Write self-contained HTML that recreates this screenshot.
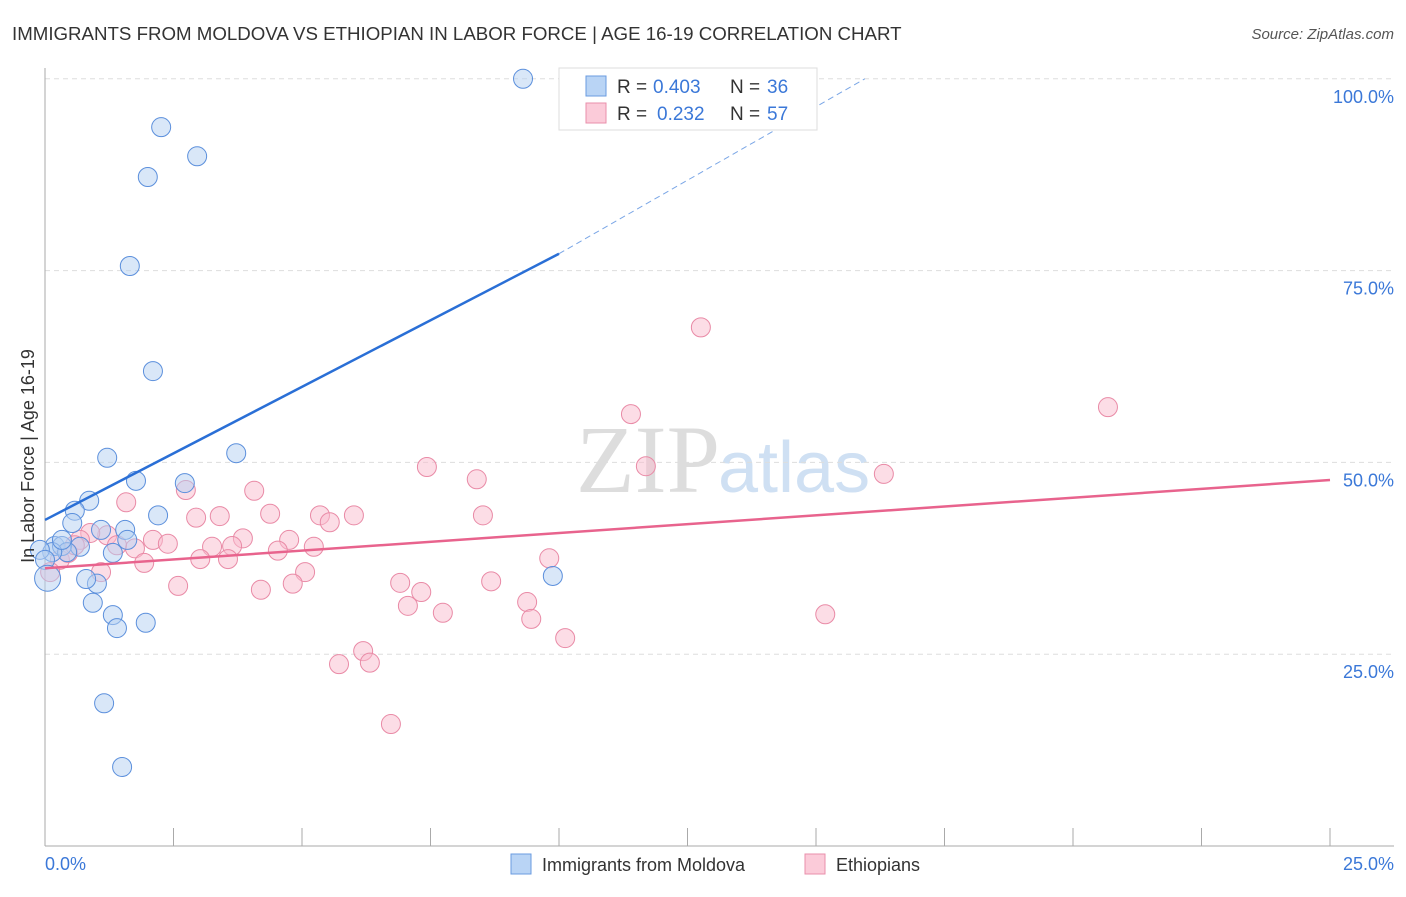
<!DOCTYPE html>
<html><head><meta charset="utf-8"><style>
body{margin:0;background:#fff;font-family:"Liberation Sans",sans-serif;}
</style></head><body>
<svg width="1406" height="892" xmlns="http://www.w3.org/2000/svg">
<text x="12" y="40" font-size="18.7" fill="#333">IMMIGRANTS FROM MOLDOVA VS ETHIOPIAN IN LABOR FORCE | AGE 16-19 CORRELATION CHART</text>
<text x="1394" y="39" font-size="15" fill="#555" font-style="italic" text-anchor="end">Source: ZipAtlas.com</text>
<text x="720" y="492" font-size="96" fill="#ddd" text-anchor="end" font-family="Liberation Serif,serif">ZIP</text>
<text x="718" y="492" font-size="72" fill="#cfe0f3">atlas</text>
<g id="grid"></g><g id="axes"></g><g id="pts"></g><g id="lines"></g>
<text transform="translate(34,456) rotate(-90)" font-size="18" fill="#333" text-anchor="middle">In Labor Force | Age 16-19</text>
<text x="45" y="870" font-size="18" fill="#3b78d8">0.0%</text>
<text x="1394" y="870" font-size="18" fill="#3b78d8" text-anchor="end">25.0%</text>
<g>
<rect x="559" y="68" width="258" height="62" fill="#fff" stroke="#ddd"/>
<rect x="586" y="76" width="20" height="20" fill="#b9d4f5" stroke="#6a9be0"/>
<rect x="586" y="103" width="20" height="20" fill="#fbcbd9" stroke="#ea8fab"/>
<text x="617" y="93" font-size="19" fill="#333">R =</text><text x="653" y="93" font-size="19" fill="#3b78d8">0.403</text>
<text x="730" y="93" font-size="19" fill="#333">N =</text><text x="767" y="93" font-size="19" fill="#3b78d8">36</text>
<text x="617" y="120" font-size="19" fill="#333">R =</text><text x="657" y="120" font-size="19" fill="#3b78d8">0.232</text>
<text x="730" y="120" font-size="19" fill="#333">N =</text><text x="767" y="120" font-size="19" fill="#3b78d8">57</text>
</g>
<g>
<rect x="511" y="854" width="20" height="20" fill="#b9d4f5" stroke="#6a9be0"/>
<text x="542" y="871" font-size="18" fill="#333">Immigrants from Moldova</text>
<rect x="805" y="854" width="20" height="20" fill="#fbcbd9" stroke="#ea8fab"/>
<text x="836" y="871" font-size="18" fill="#333">Ethiopians</text>
</g>
</svg>
<script>
const yTicks=[25,50,75,100];
const xTicks=[0,2.5,5,7.5,10,12.5,15,17.5,20,22.5,25];
const bluePx=[[523,79],[161,127],[197,156],[148,177],[130,266],[153,371],[236,453],[107,458],[136,481],[185,483],[89,501],[158,515],[75,511],[72,523],[101,530],[125,530],[127,540],[80,547],[55,546],[62,546],[67,552],[52,552],[113,553],[97,584],[86,579],[93,603],[113,615],[117,628],[146,623],[104,703],[122,767],[553,576],[40,550],[62,540],[45,560]];
const pinkPx=[[701,327],[631,414],[1108,407],[646,466],[884,474],[427,467],[477,479],[254,491],[186,490],[126,502],[270,514],[220,516],[196,518],[320,515],[354,515],[330,522],[483,515],[243,538],[153,540],[168,544],[289,540],[107,535],[90,533],[212,547],[314,547],[232,546],[135,548],[278,551],[200,559],[228,559],[144,563],[549,558],[305,572],[101,572],[178,586],[261,590],[293,584],[400,583],[421,592],[491,581],[408,606],[443,613],[527,602],[531,619],[825,614],[565,638],[363,651],[339,664],[370,663],[391,724],[60,560],[68,553],[50,572],[80,540],[117,545],[75,545]];
const blueX=bluePx.map(p=>+((p[0]-45)/51.4).toFixed(2)), blueY=bluePx.map(p=>+((846-p[1])/7.672).toFixed(1));
const pinkX=pinkPx.map(p=>+((p[0]-45)/51.4).toFixed(2)), pinkY=pinkPx.map(p=>+((846-p[1])/7.672).toFixed(1));
const blueTrend=[42.5,3.47], pinkTrend=[36.2,0.46];
const blueDashEnd=[15.95,100];
const X=v=>45+v*51.4, Y=v=>846-v*7.672;
const NS="http://www.w3.org/2000/svg";
function mk(t,a,parent){const e=document.createElementNS(NS,t);for(const k in a)e.setAttribute(k,a[k]);document.getElementById(parent).appendChild(e);return e;}
yTicks.forEach(t=>{
 const l=mk('line',{x1:45,x2:1394,y1:Y(t),y2:Y(t),stroke:'#ddd','stroke-dasharray':'5,4'},'grid');
 
 
 const tx=mk('text',{x:1394,y:Y(t)+24,'font-size':18,fill:'#3b78d8','text-anchor':'end'},'grid');tx.textContent=t.toFixed(1)+'%';
 
 
});
const ya=mk('line',{x1:45,x2:45,y1:68,y2:846,stroke:'#aaa'},'axes');


const xa=mk('line',{x1:45,x2:1394,y1:846,y2:846,stroke:'#aaa'},'axes');


xTicks.forEach(t=>{const l=mk('line',{x1:X(t),x2:X(t),y1:828,y2:846,stroke:'#aaa'},'axes');
 
 });
function pts(xs,ys,fill,stroke,name){xs.forEach((x,i)=>{const c=mk('circle',{cx:X(x),cy:Y(ys[i]),r:9.5,fill:fill,stroke:stroke,'stroke-width':1,'fill-opacity':0.5},'pts');
 
 });}
pts(pinkX,pinkY,'#f9bccd','#e98aa6','ethiopian-point');
pts(blueX,blueY,'#b3cff2','#5b8fdc','moldova-point');
const big=mk('circle',{cx:X(0.05),cy:Y(34.9),r:13,fill:'#b3cff2','fill-opacity':0.5,stroke:'#5b8fdc'},'pts');


const b1=mk('line',{x1:X(0),y1:Y(blueTrend[0]),x2:X(10),y2:Y(blueTrend[0]+10*blueTrend[1]),stroke:'#2a6fd6','stroke-width':2.5},'lines');


const b2=mk('line',{x1:X(10),y1:Y(blueTrend[0]+10*blueTrend[1]),x2:X(blueDashEnd[0]),y2:Y(blueDashEnd[1]),stroke:'#7aa6e6','stroke-width':1,'stroke-dasharray':'6,4'},'lines');


const p1=mk('line',{x1:X(0),y1:Y(pinkTrend[0]),x2:X(25),y2:Y(pinkTrend[0]+25*pinkTrend[1]),stroke:'#e8638d','stroke-width':2.5},'lines');


</script>
</body></html>
